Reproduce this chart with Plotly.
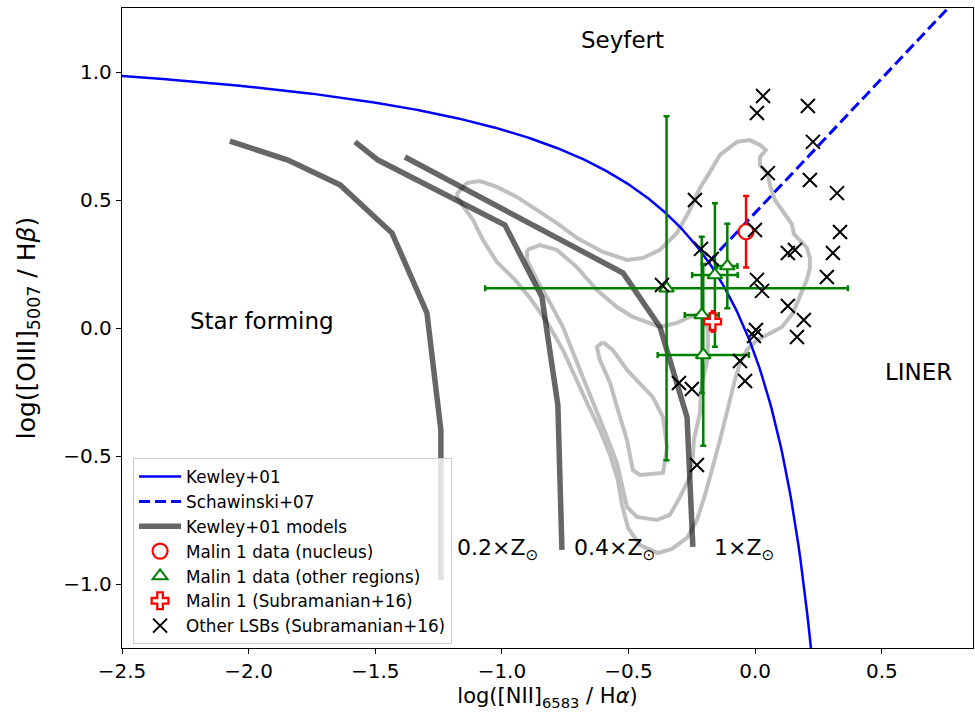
import numpy as np
import plotly.graph_objects as go

# ---- Kewley+01 photoionisation model tracks: log([NII]/Ha), log([OIII]/Hb)
model_02_x = [-2.074, -1.845, -1.639, -1.434, -1.296, -1.241, -1.241]
model_02_y = [0.730, 0.656, 0.559, 0.371, 0.059, -0.398, -0.984]
model_04_x = [-1.580, -1.489, -0.988, -0.842, -0.779, -0.763]
model_04_y = [0.727, 0.656, 0.402, 0.121, -0.301, -0.867]
model_1_x = [-1.383, -0.522, -0.376, -0.285, -0.269, -0.246]
model_1_y = [0.668, 0.215, 0.004, -0.281, -0.348, -0.855]
model_labels = ["0.2×Z<sub>⊙</sub>", "0.4×Z<sub>⊙</sub>", "1×Z<sub>⊙</sub>"]
model_label_x = [-1.185, -0.723, -0.171]
model_label_y = [-0.867, -0.867, -0.867]

# ---- SDSS galaxy density contours (outer, middle, inner)
outer_x = [-1.181, -1.138, -1.087, -1.020, -0.941, -0.862, -0.783, -0.704, -0.601, -0.506,
           -0.443, -0.376, -0.309, -0.258, -0.218, -0.179, -0.139, -0.072, -0.021, 0.019,
           0.042, 0.019, 0.019, 0.050, 0.058, 0.078, 0.117, 0.145, 0.153, 0.177,
           0.204, 0.216, 0.216, 0.204, 0.177, 0.149, 0.106, 0.058, 0.007, -0.033,
           -0.060, -0.080, -0.108, -0.139, -0.171, -0.198, -0.230, -0.269, -0.329, -0.384,
           -0.455, -0.502, -0.526, -0.542, -0.573, -0.613, -0.660, -0.704, -0.759, -0.822,
           -0.889, -0.948, -1.020, -1.075, -1.114, -1.154, -1.181]
outer_y = [0.520, 0.566, 0.574, 0.551, 0.512, 0.461, 0.410, 0.352, 0.297, 0.266,
           0.273, 0.305, 0.371, 0.461, 0.547, 0.609, 0.676, 0.727, 0.734, 0.715,
           0.695, 0.668, 0.637, 0.602, 0.559, 0.500, 0.449, 0.406, 0.367, 0.340,
           0.313, 0.273, 0.234, 0.188, 0.121, 0.059, 0.004, -0.020, -0.047, -0.086,
           -0.137, -0.203, -0.320, -0.438, -0.555, -0.652, -0.750, -0.820, -0.863, -0.879,
           -0.848, -0.781, -0.691, -0.594, -0.496, -0.398, -0.301, -0.203, -0.086, 0.023,
           0.117, 0.188, 0.258, 0.344, 0.422, 0.477, 0.520]
middle_x = [-0.901, -0.850, -0.783, -0.704, -0.625, -0.546, -0.483, -0.416, -0.376, -0.309,
            -0.258, -0.206, -0.187, -0.187, -0.198, -0.214, -0.218, -0.242, -0.246, -0.258,
            -0.297, -0.337, -0.388, -0.467, -0.506, -0.522, -0.546, -0.585, -0.641, -0.684,
            -0.723, -0.759, -0.810, -0.862, -0.901, -0.901]
middle_y = [0.305, 0.324, 0.305, 0.238, 0.148, 0.082, 0.043, 0.020, 0.004, 0.020,
            0.043, 0.059, -0.008, -0.113, -0.172, -0.242, -0.332, -0.438, -0.504, -0.582,
            -0.660, -0.730, -0.750, -0.738, -0.699, -0.633, -0.527, -0.426, -0.293, -0.184,
            -0.086, 0.004, 0.098, 0.188, 0.266, 0.305]
inner_x = [-0.601, -0.562, -0.506, -0.404, -0.364, -0.348, -0.364, -0.455, -0.483, -0.506,
           -0.542, -0.573, -0.613, -0.625, -0.601]
inner_y = [-0.055, -0.086, -0.164, -0.270, -0.348, -0.465, -0.566, -0.574, -0.555, -0.438,
           -0.320, -0.215, -0.125, -0.074, -0.055]

# ---- Malin 1 measurements
nucleus_x = [-0.036]
nucleus_y = [0.376]
nucleus_yerr = [0.14]

regions_x = [-0.350, -0.159, -0.110, -0.211, -0.205]
regions_y = [0.155, 0.207, 0.242, 0.051, -0.105]
regions_xerr = [0.716, 0.090, 0.040, 0.067, 0.180]
regions_yerr = [0.672, 0.280, 0.165, 0.305, 0.355]

sub16_x = [-0.168]
sub16_y = [0.025]
sub16_yerr = [0.04]

# ---- Other low surface brightness galaxies (Subramanian+16)
lsb_x = [0.031, 0.007, 0.208, 0.228, 0.050, 0.216, 0.323, -0.238, -0.001, 0.335,
         0.129, 0.157, 0.307, -0.214, -0.171, 0.283, -0.368, 0.007, 0.027, 0.129,
         0.192, 0.165, 0.003, -0.005, -0.060, -0.040, -0.301, -0.250, -0.230]
lsb_y = [0.906, 0.840, 0.867, 0.727, 0.605, 0.578, 0.527, 0.500, 0.383, 0.375,
         0.293, 0.305, 0.293, 0.309, 0.270, 0.199, 0.168, 0.188, 0.145, 0.086,
         0.031, -0.035, -0.008, -0.031, -0.129, -0.207, -0.215, -0.238, -0.535]

# ---- Region labels
region_names = ["Seyfert", "Star forming", "LINER"]
region_x = [-0.522, -1.947, 0.643]
region_y = [1.125, 0.027, -0.172]

X_RANGE = [-2.5, 0.86]
Y_RANGE = [-1.25, 1.25]

# Demarcation lines
kx = np.linspace(-2.6, 0.2205, 400)
ky = 0.61 / (kx - 0.47) + 1.19
sx = np.linspace(-0.1838, 0.95, 50)
sy = 1.05 * sx + 0.45

FONT = "DejaVu Sans"
fig = go.Figure()

for cx, cy in [(outer_x, outer_y), (middle_x, middle_y), (inner_x, inner_y)]:
    fig.add_trace(go.Scatter(x=cx, y=cy, mode="lines", showlegend=False,
                             line=dict(color="#bfbfbf", width=4), hoverinfo="skip"))

for i, (mx, my) in enumerate([(model_02_x, model_02_y), (model_04_x, model_04_y),
                              (model_1_x, model_1_y)]):
    fig.add_trace(go.Scatter(x=mx, y=my, mode="lines", name="Kewley+01 models",
                             legendgroup="models", showlegend=(i == 0), legendrank=3,
                             line=dict(color="rgba(0,0,0,0.6)", width=5.5)))

fig.add_trace(go.Scatter(x=kx, y=ky, mode="lines", name="Kewley+01", legendrank=1,
                         line=dict(color="#0000ff", width=2.5)))
fig.add_trace(go.Scatter(x=sx, y=sy, mode="lines", name="Schawinski+07", legendrank=2,
                         line=dict(color="#0000ff", width=3, dash="11px,5px")))

fig.add_trace(go.Scatter(
    x=regions_x, y=regions_y, mode="markers", name="Malin 1 data (other regions)",
    legendrank=5,
    marker=dict(symbol="triangle-up", size=13, color="white",
                line=dict(color="#008000", width=2)),
    error_x=dict(type="data", array=regions_xerr, color="#008000", thickness=2.5, width=3),
    error_y=dict(type="data", array=regions_yerr, color="#008000", thickness=2.5, width=3)))

fig.add_trace(go.Scatter(
    x=nucleus_x, y=nucleus_y, mode="markers", name="Malin 1 data (nucleus)", legendrank=4,
    marker=dict(symbol="circle", size=15, color="white", line=dict(color="#ff0000", width=2.2)),
    error_y=dict(type="data", array=nucleus_yerr, color="#ff0000", thickness=2.5, width=3)))

fig.add_trace(go.Scatter(
    x=sub16_x, y=sub16_y, mode="markers", name="Malin 1 (Subramanian+16)", legendrank=6,
    marker=dict(symbol="cross", size=14, color="white", line=dict(color="#ff0000", width=2.3)),
    error_y=dict(type="data", array=sub16_yerr, color="#ff0000", thickness=2.5, width=2)))

fig.add_trace(go.Scatter(
    x=lsb_x, y=lsb_y, mode="markers", name="Other LSBs (Subramanian+16)", legendrank=7,
    marker=dict(symbol="x-thin", size=14, color="black", line=dict(color="black", width=2))))

for txt, tx, ty in zip(region_names, region_x, region_y):
    fig.add_annotation(x=tx, y=ty, text=txt, showarrow=False, xanchor="center",
                       yanchor="middle", font=dict(family=FONT, size=23, color="black"))
for txt, tx, ty in zip(model_labels, model_label_x, model_label_y):
    fig.add_annotation(x=tx, y=ty, text=txt, showarrow=False, xanchor="left",
                       yanchor="middle", font=dict(family=FONT, size=22, color="black"))

axis_common = dict(showline=True, linecolor="black", linewidth=1.3, mirror=True,
                   ticks="outside", ticklen=5, tickwidth=1.3, tickcolor="black",
                   showgrid=False, zeroline=False, tickformat=".1f",
                   tickfont=dict(family=FONT, size=20, color="black"))

fig.update_xaxes(range=X_RANGE, tickvals=[-2.5, -2.0, -1.5, -1.0, -0.5, 0.0, 0.5],
                 title=dict(text="log([NII]<sub>6583</sub> / H<i>α</i>)",
                            font=dict(family=FONT, size=21, color="black"), standoff=6),
                 **axis_common)
fig.update_yaxes(range=Y_RANGE, tickvals=[-1.0, -0.5, 0.0, 0.5, 1.0],
                 title=dict(text="log([OIII]<sub>5007</sub> / H<i>β</i>)",
                            font=dict(family=FONT, size=25, color="black"), standoff=20),
                 **axis_common)

fig.update_layout(
    width=975, height=727,
    margin=dict(l=122, r=2, t=8, b=79),
    paper_bgcolor="white", plot_bgcolor="white",
    font=dict(family=FONT, color="black"),
    legend=dict(x=0.013, y=0.006, xanchor="left", yanchor="bottom",
                bgcolor="rgba(255,255,255,0.8)", bordercolor="#cccccc", borderwidth=1,
                tracegroupgap=0, itemwidth=42,
                font=dict(family=FONT, size=16.8, color="black")),
)

fig.write_html("out.html")
